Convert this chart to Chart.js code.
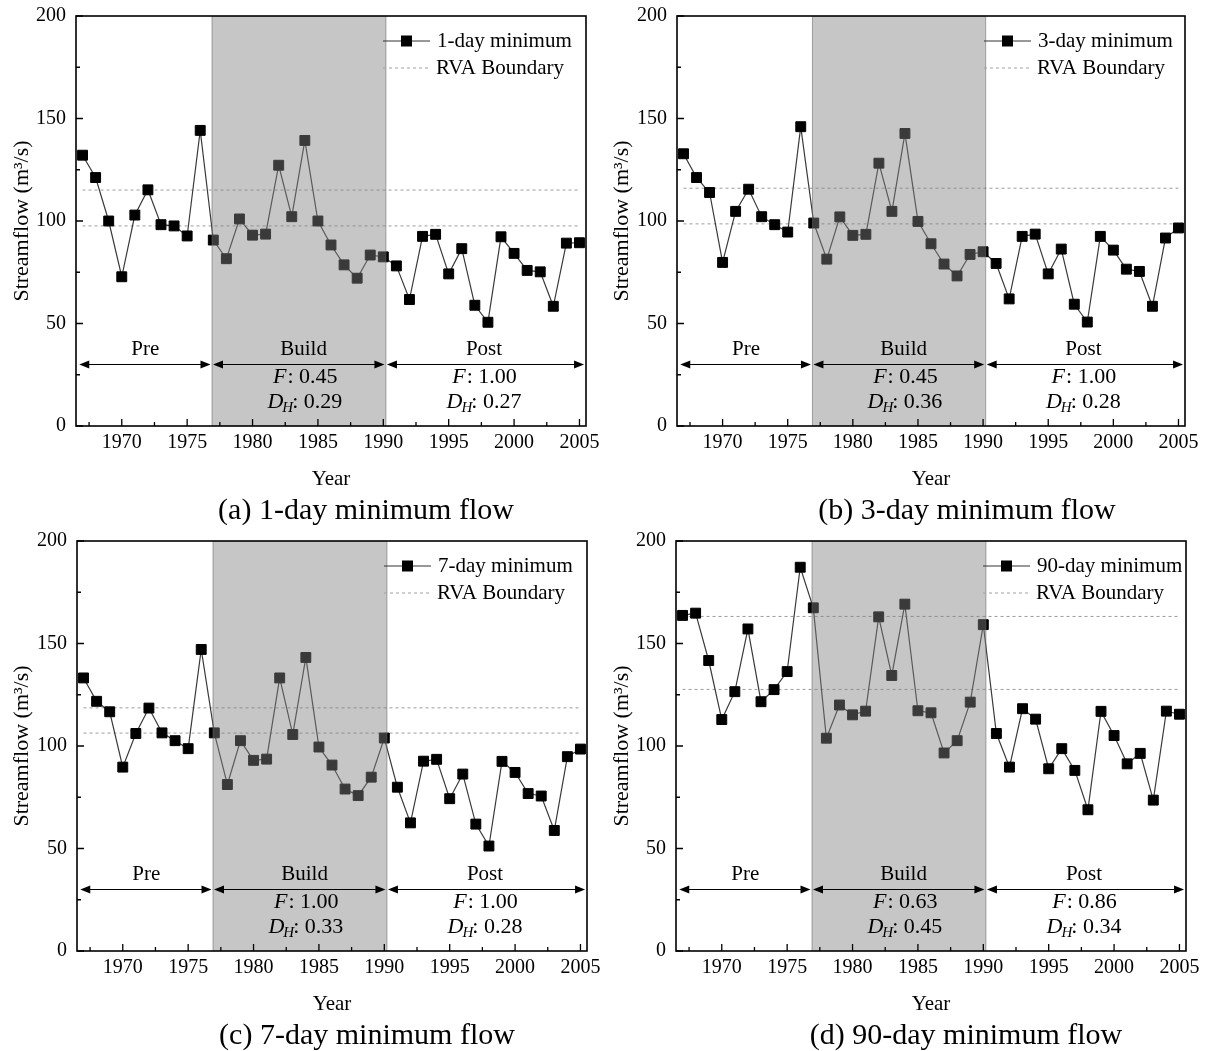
<!DOCTYPE html>
<html><head><meta charset="utf-8">
<script src="https://cdn.jsdelivr.net/npm/chart.js@4.4.0/dist/chart.umd.min.js"></script>
<style>
html,body{margin:0;padding:0;background:#fff;}
#wrap{position:relative;width:1206px;height:1051px;background:#fff;}
.panel{position:absolute;}
canvas{display:block;}
</style></head><body>
<div id="wrap">
  <div class="panel" style="left:0;top:0"><canvas id="c0" width="600" height="525"></canvas></div>
  <div class="panel" style="left:600px;top:0"><canvas id="c1" width="606" height="525"></canvas></div>
  <div class="panel" style="left:0;top:525px"><canvas id="c2" width="600" height="526"></canvas></div>
  <div class="panel" style="left:600px;top:525px"><canvas id="c3" width="606" height="526"></canvas></div>
</div>
<script>
// ---------------- DATA ----------------
const years = [1967,1968,1969,1970,1971,1972,1973,1974,1975,1976,1977,1978,1979,1980,1981,1982,1983,1984,1985,1986,1987,1988,1989,1990,1991,1992,1993,1994,1995,1996,1997,1998,1999,2000,2001,2002,2003,2004,2005];
const flow1day = [132.1,121.2,100.0,72.8,102.9,115.2,98.2,97.6,92.7,144.2,90.7,81.6,101.0,93.1,93.6,127.2,102.1,139.3,100.0,88.3,78.6,72.1,83.4,82.5,78.1,61.7,92.5,93.5,74.2,86.5,58.9,50.6,92.3,84.2,75.9,75.2,58.4,89.2,89.4];
const flow3day = [132.8,121.2,113.9,79.8,104.7,115.5,102.1,98.2,94.6,146.0,99.0,81.4,102.0,93.0,93.5,128.2,104.7,142.7,99.8,88.9,79.0,73.2,83.7,85.0,79.3,62.0,92.5,93.6,74.2,86.3,59.4,50.7,92.5,85.8,76.5,75.4,58.4,91.7,96.6];
const flow7day = [133.2,121.8,116.7,89.7,106.1,118.5,106.4,102.6,98.7,147.1,106.4,81.2,102.6,93.0,93.6,133.2,105.6,143.2,99.5,90.7,79.0,75.8,84.8,103.9,79.9,62.5,92.6,93.5,74.3,86.3,61.9,51.2,92.5,87.1,76.8,75.6,58.8,94.8,98.5];
const flow90day = [163.7,164.8,141.7,112.9,126.5,157.1,121.6,127.5,136.3,187.2,167.4,103.8,120.0,115.2,117.0,163.0,134.4,169.2,117.2,116.2,96.6,102.6,121.4,159.2,106.1,89.7,118.2,113.1,88.9,98.7,88.1,68.9,116.9,105.1,91.3,96.4,73.6,117.0,115.5];
const rvaLower = [97.6, 98.6, 106.3, 127.6];
const rvaUpper = [115.1, 116.0, 118.6, 163.2];
const seriesNames = ['1-day minimum','3-day minimum','7-day minimum','90-day minimum'];
const captions = ['(a) 1-day minimum flow','(b) 3-day minimum flow','(c) 7-day minimum flow','(d) 90-day minimum flow'];
const periodNames = ['Pre','Build','Post'];
const periodBounds = [1966.75, 1976.9, 1990.2, 2005.35];
const fBuild = ['0.45','0.45','1.00','0.63'];
const dhBuild = ['0.29','0.36','0.33','0.45'];
const fPost = ['1.00','1.00','1.00','0.86'];
const dhPost = ['0.27','0.28','0.28','0.34'];
const allFlows = [flow1day, flow3day, flow7day, flow90day];

// ---------------- LAYOUT ----------------
const FONT = "'Liberation Serif','Times New Roman',serif";
Chart.defaults.color = '#000';
Chart.defaults.font.family = FONT;
const geom = [
  {yW:76, padR:14, padB:33},
  {yW:77, padR:21, padB:33},
  {yW:77, padR:13, padB:34},
  {yW:76, padR:20, padB:34}
];

function drawArrow(ctx, x1, x2, y){
  const hl = 10, hw = 4;
  ctx.beginPath(); ctx.moveTo(x1 + 2, y); ctx.lineTo(x2 - 2, y); ctx.stroke();
  ctx.beginPath(); ctx.moveTo(x1, y); ctx.lineTo(x1 + hl, y - hw); ctx.lineTo(x1 + hl, y + hw); ctx.closePath(); ctx.fill();
  ctx.beginPath(); ctx.moveTo(x2, y); ctx.lineTo(x2 - hl, y - hw); ctx.lineTo(x2 - hl, y + hw); ctx.closePath(); ctx.fill();
}
function drawFLine(ctx, cx, y, val){
  const fi = 'italic 22px ' + FONT, fn = '22px ' + FONT;
  ctx.font = fi; const w1 = ctx.measureText('F').width;
  ctx.font = fn; const w2 = ctx.measureText(': ' + val).width;
  let x0 = cx - (w1 + w2) / 2;
  ctx.textAlign = 'left'; ctx.textBaseline = 'middle';
  ctx.font = fi; ctx.fillText('F', x0, y);
  ctx.font = fn; ctx.fillText(': ' + val, x0 + w1 + 1, y);
}
function drawDLine(ctx, cx, y, val){
  const fi = 'italic 22px ' + FONT, fs = 'italic 15px ' + FONT, fn = '22px ' + FONT;
  ctx.font = fi; const w1 = ctx.measureText('D').width;
  ctx.font = fs; const w2 = ctx.measureText('H').width;
  ctx.font = fn; const w3 = ctx.measureText(': ' + val).width;
  let x0 = cx - (w1 + w2 - 2 + w3) / 2;
  ctx.textAlign = 'left'; ctx.textBaseline = 'middle';
  ctx.font = fi; ctx.fillText('D', x0, y);
  ctx.font = fs; ctx.fillText('H', x0 + w1 - 1, y + 6);
  ctx.font = fn; ctx.fillText(': ' + val, x0 + w1 + w2 - 2, y);
}

function makePlugin(p){
  return {
    id: 'extras' + p,
    afterDatasetsDraw(chart){
      const {ctx, chartArea: ca} = chart;
      const x = chart.scales.x, y = chart.scales.y;
      ctx.save();
      // shaded construction period
      const xl = x.getPixelForValue(periodBounds[1]), xr = x.getPixelForValue(periodBounds[2]);
      ctx.fillStyle = 'rgba(128,128,128,0.45)';
      ctx.fillRect(xl, ca.top, xr - xl, ca.bottom - ca.top);
      ctx.strokeStyle = 'rgba(100,100,100,0.55)'; ctx.lineWidth = 1;
      ctx.beginPath(); ctx.moveTo(xl, ca.top); ctx.lineTo(xl, ca.bottom);
      ctx.moveTo(xr, ca.top); ctx.lineTo(xr, ca.bottom); ctx.stroke();

      // arrows + period labels
      ctx.strokeStyle = '#000'; ctx.fillStyle = '#000'; ctx.lineWidth = 1;
      const ya = y.getPixelForValue(30);
      for (let k = 0; k < 3; k++){
        const a = x.getPixelForValue(periodBounds[k]) + (k > 0 ? 1 : 0);
        const b = x.getPixelForValue(periodBounds[k + 1]) - (k < 2 ? 1.5 : 0);
        drawArrow(ctx, a, b, ya);
      }
      ctx.font = '21px ' + FONT; ctx.textAlign = 'center'; ctx.textBaseline = 'middle';
      const yl = y.getPixelForValue(37.5);
      ctx.fillText(periodNames[0], x.getPixelForValue(1971.8), yl);
      ctx.fillText(periodNames[1], x.getPixelForValue(1983.9), yl);
      ctx.fillText(periodNames[2], x.getPixelForValue(1997.7), yl);
      const yf = y.getPixelForValue(23.6), yd = y.getPixelForValue(11.6);
      drawFLine(ctx, x.getPixelForValue(1984.0), yf, fBuild[p]);
      drawDLine(ctx, x.getPixelForValue(1984.0), yd, dhBuild[p]);
      drawFLine(ctx, x.getPixelForValue(1997.7), yf, fPost[p]);
      drawDLine(ctx, x.getPixelForValue(1997.7), yd, dhPost[p]);

      // legend
      const lx0 = ca.left + 307, lx1 = ca.left + 354, ly1 = ca.top + 25, ly2 = ca.top + 52;
      ctx.strokeStyle = '#333'; ctx.lineWidth = 1;
      ctx.beginPath(); ctx.moveTo(lx0, ly1); ctx.lineTo(lx1, ly1); ctx.stroke();
      ctx.fillStyle = '#000';
      ctx.fillRect((lx0 + lx1) / 2 - 5.5, ly1 - 5.5, 11, 11);
      ctx.strokeStyle = '#a0a0a0'; ctx.setLineDash([3, 3]);
      ctx.beginPath(); ctx.moveTo(lx0, ly2); ctx.lineTo(lx1, ly2); ctx.stroke();
      ctx.setLineDash([]);
      ctx.font = '21px ' + FONT; ctx.textAlign = 'left'; ctx.textBaseline = 'middle';
      ctx.fillText(seriesNames[p], ca.left + 361, ly1);
      ctx.fillText('RVA Boundary', ca.left + 360, ly2);

      // inward tick marks
      ctx.strokeStyle = '#000'; ctx.lineWidth = 1.3;
      ctx.beginPath();
      x.ticks.forEach(t => {
        const px = x.getPixelForValue(t.value);
        ctx.moveTo(px, ca.bottom); ctx.lineTo(px, ca.bottom - 7);
        const m = t.value - 2.5;
        if (m > x.min) { const mx = x.getPixelForValue(m); ctx.moveTo(mx, ca.bottom); ctx.lineTo(mx, ca.bottom - 4); }
      });
      y.ticks.forEach(t => {
        const py = y.getPixelForValue(t.value);
        ctx.moveTo(ca.left, py); ctx.lineTo(ca.left + 7, py);
        const m = t.value + 25;
        if (m < y.max) { const my = y.getPixelForValue(m); ctx.moveTo(ca.left, my); ctx.lineTo(ca.left + 4, my); }
      });
      ctx.stroke();
      // frame
      ctx.lineWidth = 1.6;
      ctx.strokeRect(ca.left, ca.top, ca.right - ca.left, ca.bottom - ca.top);

      // caption
      ctx.fillStyle = '#000';
      ctx.font = '30px ' + FONT; ctx.textAlign = 'center'; ctx.textBaseline = 'middle';
      ctx.fillText(captions[p], ca.left + 290, 511);
      ctx.restore();
    }
  };
}

for (let p = 0; p < 4; p++){
  const g = geom[p];
  const flows = allFlows[p];
  new Chart(document.getElementById('c' + p), {
    type: 'line',
    data: {
      datasets: [
        {
          label: seriesNames[p],
          data: years.map((yr, i) => ({x: yr, y: flows[i]})),
          borderColor: '#3a3a3a', borderWidth: 1.2, tension: 0,
          pointStyle: 'rect', pointRadius: 7,
          pointBackgroundColor: '#000', pointBorderColor: '#000', pointBorderWidth: 1,
          order: 0
        },
        {
          label: 'RVA Boundary',
          data: [{x: years[0], y: rvaUpper[p]}, {x: years[years.length - 1], y: rvaUpper[p]}],
          borderColor: '#9c9c9c', borderWidth: 1, borderDash: [3, 3], pointRadius: 0, order: 1
        },
        {
          label: 'RVA Boundary lower',
          data: [{x: years[0], y: rvaLower[p]}, {x: years[years.length - 1], y: rvaLower[p]}],
          borderColor: '#9c9c9c', borderWidth: 1, borderDash: [3, 3], pointRadius: 0, order: 1
        }
      ]
    },
    options: {
      responsive: false, animation: false, devicePixelRatio: 1,
      layout: {padding: {left: 0, top: 16, right: g.padR, bottom: g.padB}},
      plugins: {legend: {display: false}, tooltip: {enabled: false}},
      scales: {
        x: {
          type: 'linear', min: 1966.5, max: 2005.5,
          ticks: {stepSize: 5, includeBounds: false, autoSkip: false, maxRotation: 0, padding: 5,
                  color: '#000', font: {family: FONT, size: 20}, callback: v => String(v)},
          grid: {display: false, drawTicks: false}, border: {display: false},
          title: {display: true, text: 'Year', color: '#000', font: {family: FONT, size: 21}, padding: {top: 0, bottom: 0}},
          afterFit(s){ s.height = 66; s.paddingLeft = 0; s.paddingRight = 0; }
        },
        y: {
          min: 0, max: 200,
          ticks: {stepSize: 50, padding: 10, color: '#000', font: {family: FONT, size: 20}},
          grid: {display: false, drawTicks: false}, border: {display: false},
          title: {display: true, text: 'Streamflow (m³/s)', color: '#000', font: {family: FONT, size: 22}, padding: {top: 9, bottom: 0}},
          afterFit(s){ s.width = g.yW; s.paddingTop = 0; s.paddingBottom = 0; }
        }
      }
    },
    plugins: [makePlugin(p)]
  });
}
</script>
</body></html>
